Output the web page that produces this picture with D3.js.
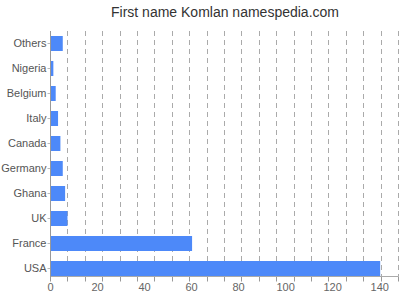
<!DOCTYPE html>
<html>
<head>
<meta charset="utf-8">
<script src="https://cdn.jsdelivr.net/npm/d3@7"></script>
<style>
html,body{margin:0;padding:0;background:#fff;}
svg{display:block;font-family:"Liberation Sans",Arial,sans-serif;}
</style>
</head>
<body>
<svg id="chart" width="400" height="300"></svg>
<script>
const title = "First name Komlan namespedia.com";
const categories = ["Others","Nigeria","Belgium","Italy","Canada","Germany","Ghana","UK","France","USA"];
const values = [5,1,2,3,4,5,6,7,60,140];
const tickLabels = [0,20,40,60,80,100,120,140];
const axisMax = 148;
const gridDivisions = 20;

(function () {
const svg = d3.select("#chart");
const mLeft = 50, mRight = 398, mTop = 31, mBottom = 281, axisY = 276.5;

const x = d3.scaleLinear().domain([0, axisMax]).range([mLeft, mRight]);
const y = d3.scaleBand().domain(categories).range([mTop, mBottom]).paddingInner(0.4).paddingOuter(0.2);

// title
svg.append("text").attr("x", 225).attr("y", 17).attr("text-anchor", "middle")
  .attr("font-size", 14).attr("fill", "#333").text(title);

// gridlines
const gridVals = d3.range(1, gridDivisions + 1).map(i => axisMax * i / gridDivisions);
svg.append("g").selectAll("line").data(gridVals).join("line")
  .attr("x1", d => Math.round(x(d)) + 0.5).attr("x2", d => Math.round(x(d)) + 0.5)
  .attr("y1", mTop).attr("y2", axisY)
  .attr("stroke", "#aaa").attr("stroke-width", 1).attr("stroke-dasharray", "5,4");

// bottom tick marks
svg.append("g").selectAll("line").data([0].concat(gridVals)).join("line")
  .attr("x1", d => Math.round(x(d)) + 0.5).attr("x2", d => Math.round(x(d)) + 0.5)
  .attr("y1", axisY).attr("y2", axisY + 5)
  .attr("stroke", "#999").attr("stroke-width", 1);

// bars
svg.append("g").selectAll("rect").data(categories).join("rect")
  .attr("x", x(0) + 1).attr("y", d => y(d))
  .attr("width", (d, i) => x(values[i]) - x(0))
  .attr("height", y.bandwidth())
  .attr("fill", "#4D89F9");

// x axis line
svg.append("line").attr("x1", mLeft).attr("x2", mRight).attr("y1", axisY).attr("y2", axisY)
  .attr("stroke", "#aaa").attr("stroke-width", 1);

// x tick labels
const xAxis = d3.axisBottom(x).tickValues(tickLabels).tickSize(0).tickPadding(0).tickFormat(d3.format("d"));
const gx = svg.append("g").attr("transform", `translate(0,${axisY + 7})`).call(xAxis);
gx.select(".domain").remove();
gx.selectAll("text").attr("font-size", 11).attr("fill", "#666").attr("font-family", "Liberation Sans, Arial, sans-serif");

// y axis
const yAxis = d3.axisLeft(y).tickSize(3).tickPadding(1);
const gy = svg.append("g").attr("transform", `translate(${mLeft + 0.5},0)`).call(yAxis);
gy.select(".domain").remove();
gy.selectAll(".tick line").attr("stroke", "#bbb");
gy.selectAll("text").attr("font-size", 11).attr("fill", "#555").attr("font-family", "Liberation Sans, Arial, sans-serif");
svg.append("line").attr("x1", mLeft + 0.5).attr("x2", mLeft + 0.5).attr("y1", mTop).attr("y2", mBottom)
  .attr("stroke", "#999").attr("stroke-width", 1);
})();
</script>
</body>
</html>
